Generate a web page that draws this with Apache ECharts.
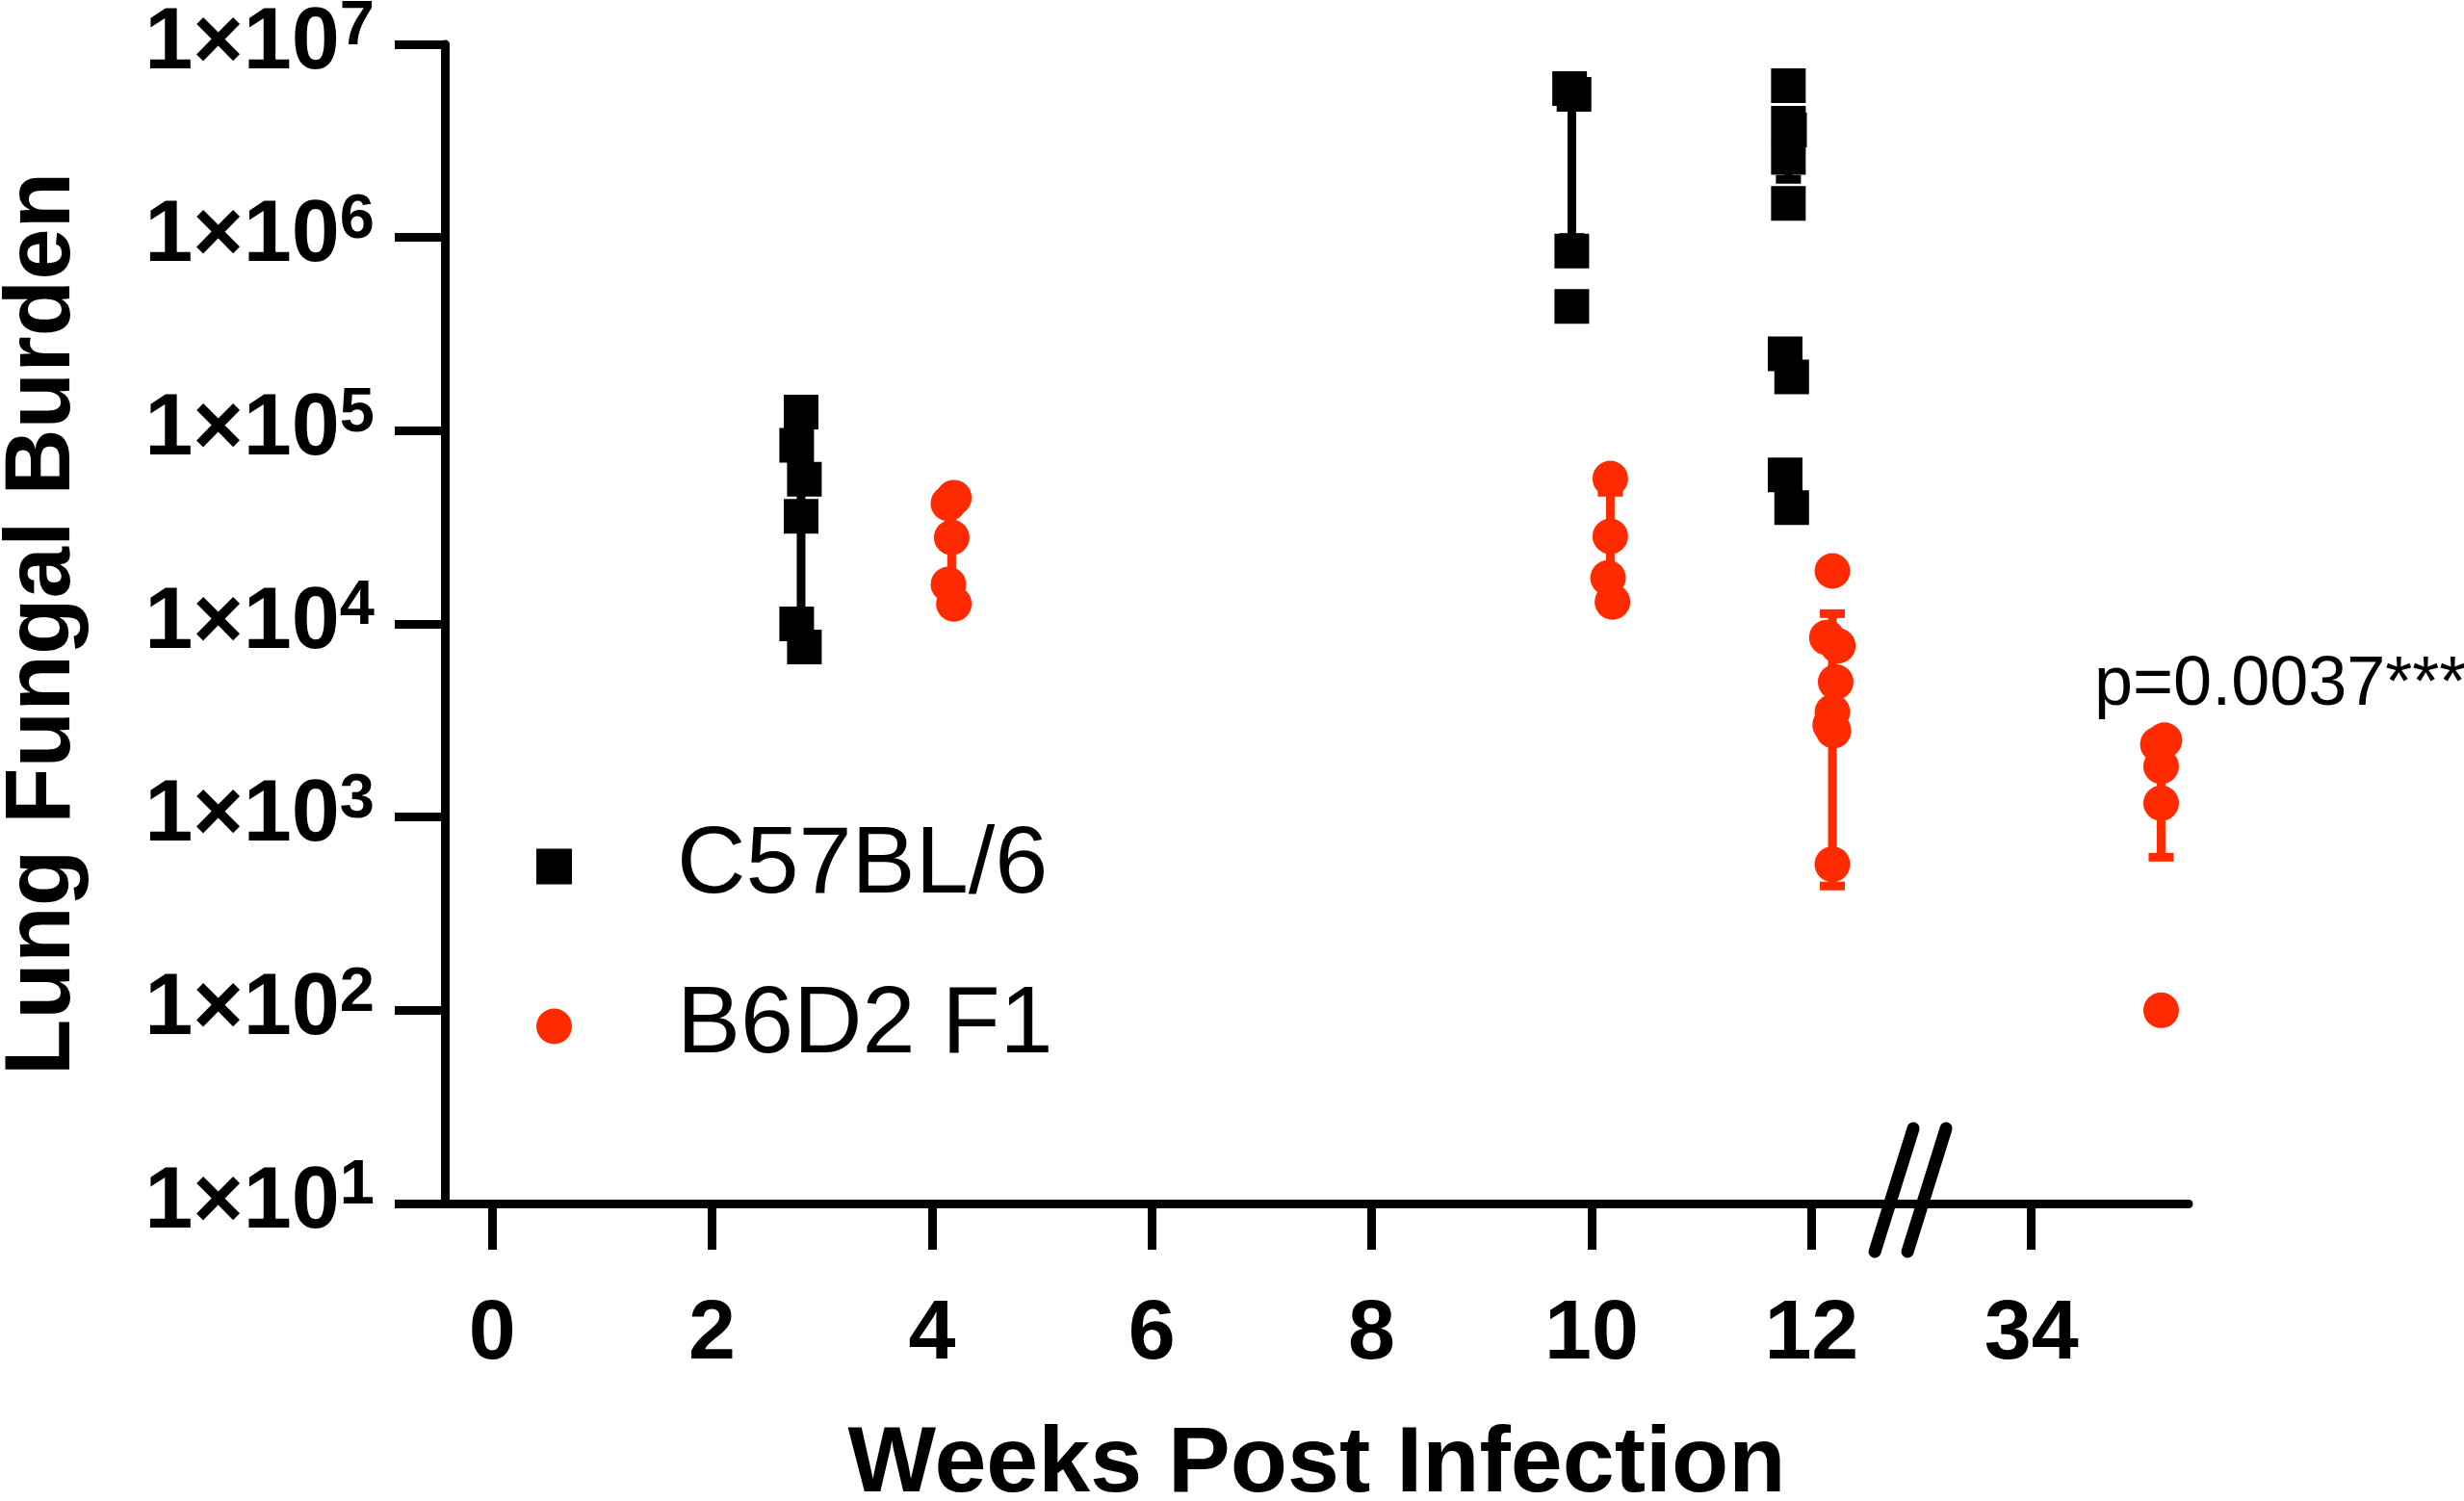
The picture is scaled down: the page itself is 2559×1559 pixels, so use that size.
<!DOCTYPE html>
<html>
<head>
<meta charset="utf-8">
<script src="https://cdn.jsdelivr.net/npm/echarts/dist/echarts.min.js"></script>
<style>
html,body{margin:0;padding:0;background:#fff;}
#chart{width:2559px;height:1559px;}
</style>
</head>
<body>
<div id="chart"></div>
<script>
// ---- data ----
const xTickValues = [0, 2, 4, 6, 8, 10, 12, 14];
const xTickLabels = ['0', '2', '4', '6', '8', '10', '12', '34'];
const axisBreakAt = 12.9;

const c57Name = 'C57BL/6';
const c57Weeks = [2.81, 9.82, 11.79];
const c57Values = [
  [1.25e5, 8.4e4, 5.6e4, 3.6e4, 1.0e4, 7.6e3],
  [5.9e6, 5.5e6, 8.5e5, 4.4e5],
  [6.1e6, 3.9e6, 3.6e6, 2.6e6, 1.5e6, 2.5e5, 1.9e5, 5.9e4, 4.0e4]
];
const c57Jitter = [
  [0, -0.04, 0.03, 0, -0.04, 0.03],
  [-0.02, 0.02, 0, 0],
  [0, 0, 0.01, 0, 0, -0.03, 0.03, -0.03, 0.03]
];
const c57ErrLow = [7.6e3, 1.0e6, 2.0e6];
const c57ErrHigh = [9.8e4, 4.9e6, 4.1e6];

const f1Name = 'B6D2 F1';
const f1Weeks = [4.18, 10.17, 12.19, 15.18];
const f1Values = [
  [4.5e4, 4.2e4, 2.8e4, 1.6e4, 1.27e4],
  [5.65e4, 2.84e4, 1.73e4, 1.3e4],
  [1.88e4, 8.5e3, 7.7e3, 5.0e3, 3.5e3, 3.0e3, 2.8e3, 5.7e2],
  [2.5e3, 2.38e3, 1.83e3, 1.18e3, 1.0e2]
];
const f1Jitter = [
  [0.02, -0.03, 0, -0.03, 0.02],
  [0, 0, -0.02, 0.02],
  [0, -0.05, 0.05, 0.03, 0, -0.02, 0.01, 0],
  [0.03, -0.03, 0, 0, 0]
];
const f1ErrLow = [1.4e4, 1.4e4, 4.4e2, 6.2e2];
const f1ErrHigh = [4.3e4, 4.8e4, 1.13e4, 2.5e3];

const pText = 'p=0.0037***';

// ---- build ----
const BLACK = '#000000';
const RED = '#ff2a00';
const FONT = '"Liberation Sans", Arial, Helvetica, sans-serif';

function points(weeks, values, jitter) {
  const out = [];
  weeks.forEach((w, i) => values[i].forEach((v, j) => out.push([w + jitter[i][j], v])));
  return out;
}
function errData(weeks, lo, hi) {
  return weeks.map((w, i) => [w, lo[i], hi[i]]);
}
function errRender(color) {
  return function (params, api) {
    const x = api.value(0);
    const p1 = api.coord([x, api.value(1)]);
    const p2 = api.coord([x, api.value(2)]);
    const hw = 13;
    const st = { stroke: color, lineWidth: 9 };
    return {
      type: 'group',
      children: [
        { type: 'line', shape: { x1: p1[0], y1: p1[1], x2: p2[0], y2: p2[1] }, style: st },
        { type: 'line', shape: { x1: p1[0] - hw, y1: p1[1], x2: p1[0] + hw, y2: p1[1] }, style: st },
        { type: 'line', shape: { x1: p2[0] - hw, y1: p2[1], x2: p2[0] + hw, y2: p2[1] }, style: st }
      ]
    };
  };
}

const chart = echarts.init(document.getElementById('chart'), null, { renderer: 'canvas' });

const option = {
  backgroundColor: '#ffffff',
  animation: false,
  textStyle: { fontFamily: FONT },
  grid: { left: 462, right: 286, top: 46, bottom: 309, containLabel: false, outerBoundsMode: 'none' },
  legend: {
    orient: 'vertical',
    left: 552,
    top: 845,
    itemWidth: 37,
    itemHeight: 37,
    itemGap: 66,
    data: [c57Name, f1Name],
    textStyle: { fontFamily: FONT, fontSize: 99, color: '#000', lineHeight: 100, padding: [0, 0, 0, 104] }
  },
  xAxis: {
    type: 'value',
    min: -0.43,
    max: 15.43,
    name: 'Weeks Post Infection',
    nameLocation: 'middle',
    nameGap: 224,
    nameTextStyle: { fontFamily: FONT, fontSize: 97, fontWeight: 'bold', color: '#000' },
    axisLine: { show: true, onZero: false, lineStyle: { color: '#000', width: 9 } },
    axisTick: { show: true, length: 48, lineStyle: { color: '#000', width: 9 }, customValues: xTickValues },
    axisLabel: {
      show: true, margin: 93, fontSize: 88, fontWeight: 'bold', color: '#000', fontFamily: FONT,
      customValues: xTickValues,
      formatter: v => xTickLabels[xTickValues.indexOf(v)]
    },
    splitLine: { show: false }
  },
  yAxis: {
    type: 'log',
    logBase: 10,
    min: 10,
    max: 1e7,
    splitNumber: 6,
    name: 'Lung Fungal Burden',
    nameLocation: 'middle',
    nameRotate: 90,
    nameGap: 368,
    nameTextStyle: { fontFamily: FONT, fontSize: 96, fontWeight: 'bold', color: '#000' },
    axisLine: { show: true, onZero: false, lineStyle: { color: '#000', width: 9 } },
    axisTick: { show: true, length: 52, lineStyle: { color: '#000', width: 9 } },
    axisLabel: {
      show: true, margin: 73, color: '#000',
      formatter: v => '{b|1×10}{s|' + Math.round(Math.log10(v)) + '}',
      rich: {
        b: { fontSize: 90, fontWeight: 'bold', fontFamily: FONT, color: '#000', lineHeight: 100 },
        s: { fontSize: 65, fontWeight: 'bold', fontFamily: FONT, color: '#000', verticalAlign: 'top', lineHeight: 65 }
      }
    },
    splitLine: { show: false }
  },
  graphic: [
    {
      type: 'text', left: 2175, top: 676, z: 10,
      style: { text: pText, fontSize: 72, fontFamily: FONT, fill: '#000' }
    }
  ],
  series: [
    {
      type: 'custom', name: 'c57err', z: 1, silent: true,
      renderItem: errRender(BLACK),
      data: errData(c57Weeks, c57ErrLow, c57ErrHigh)
    },
    {
      type: 'custom', name: 'f1err', z: 1, silent: true,
      renderItem: errRender(RED),
      data: errData(f1Weeks, f1ErrLow, f1ErrHigh)
    },
    {
      type: 'scatter', name: c57Name, z: 3, symbol: 'rect', symbolSize: 36,
      itemStyle: { color: BLACK, opacity: 1, borderWidth: 0 },
      emphasis: { disabled: true },
      data: points(c57Weeks, c57Values, c57Jitter)
    },
    {
      type: 'scatter', name: f1Name, z: 3, symbol: 'circle', symbolSize: 37,
      itemStyle: { color: RED, opacity: 1, borderWidth: 0 },
      emphasis: { disabled: true },
      data: points(f1Weeks, f1Values, f1Jitter)
    },
    {
      type: 'custom', name: 'break', z: 5, silent: true, clip: false,
      renderItem: function (params, api) {
        const c = api.coord([api.value(0), api.value(1)]);
        const st = { stroke: '#000', lineWidth: 13, lineCap: 'round' };
        const mk = dx => ({ type: 'line', shape: { x1: c[0] + dx - 20, y1: c[1] + 50, x2: c[0] + dx + 20, y2: c[1] - 78 }, style: st });
        return { type: 'group', children: [mk(-17), mk(17)] };
      },
      data: [[axisBreakAt, 10]]
    }
  ]
};
chart.setOption(option);
</script>
</body>
</html>
